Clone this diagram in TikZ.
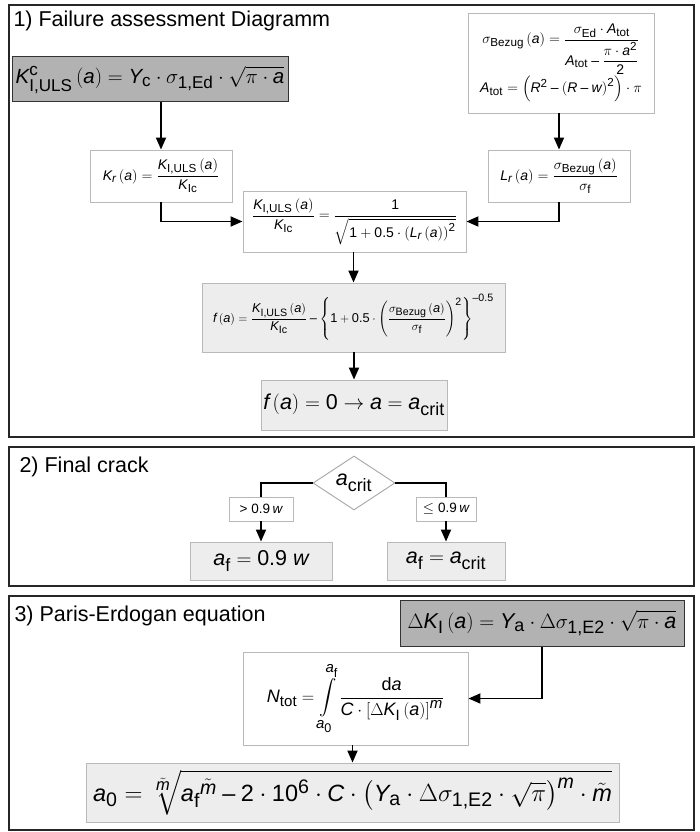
\documentclass[tikz,border=0pt]{standalone}
\usepackage{amsmath}
\usepackage{fontspec}
\setmainfont{Liberation Sans}
\usepackage[italic]{mathastext}
\usetikzlibrary{arrows.meta, shapes.geometric}

\begin{document}
\begin{tikzpicture}[
    x=1pt, y=-1pt,
    panel/.style={draw=black!85, line width=1.3pt},
    title/.style={anchor=west, font=\fontsize{21.5}{25}\selectfont},
    darkbox/.style={draw=black!80, fill=gray!60, line width=1pt, inner sep=0pt},
    eqbox/.style={draw=gray!55, fill=white, line width=0.9pt, inner sep=0pt},
    greybox/.style={draw=gray!55, fill=gray!14, line width=0.9pt, inner sep=0pt},
    big/.style={font=\fontsize{21.5}{25}\selectfont},
    small/.style={font=\fontsize{14}{16}\selectfont},
    tiny/.style={font=\fontsize{13.5}{15}\selectfont},
    arr/.style={-{Triangle[length=12pt,width=10pt]}, line width=1.8pt},
    conn/.style={line width=1.8pt}
]
\useasboundingbox (0,0) rectangle (699,832);

% ============================================================
% 1) FAILURE ASSESSMENT DIAGRAMM
% ============================================================
\draw[panel] (9,5) rectangle (694,437);
\node[title] (t1) at (10,21) {1) Failure assessment Diagramm};

\node[darkbox, font=\fontsize{20.5}{24}\selectfont, minimum width=276pt, minimum height=45pt] (kc) at (150,79.5)
    {$K^{\mathrm{c}}_{\mathrm{I,ULS}}\left(a\right)=Y_{\mathrm{c}}\cdot\sigma_{\mathrm{1,Ed}}\cdot\sqrt{\pi\cdot a}$};
\node[eqbox, small, align=center, minimum width=186pt, minimum height=100pt] (sig) at (561,63)
    {$\sigma_{\mathrm{Bezug}}\left(a\right)=\dfrac{\sigma_{\mathrm{Ed}}\cdot A_{\mathrm{tot}}}{A_{\mathrm{tot}}-\dfrac{\pi\cdot a^{\mathrm{2}}}{\mathrm{2}}}$\\[0pt]
     $A_{\mathrm{tot}}=\left(R^{\mathrm{2}}-\left(R-w\right)^{\mathrm{2}}\right)\cdot\pi$};

% ratios
\node[eqbox, small, minimum width=142pt, minimum height=52pt] (kr) at (161,176)
    {$K_r\left(a\right)=\dfrac{K_{\mathrm{I,ULS}}\left(a\right)}{K_{\mathrm{Ic}}}$};
\node[eqbox, small, minimum width=142pt, minimum height=52pt] (lr) at (559,176)
    {$L_r\left(a\right)=\dfrac{\sigma_{\mathrm{Bezug}}\left(a\right)}{\sigma_{\mathrm{f}}}$};
\node[eqbox, small, minimum width=223pt, minimum height=61pt] (mid) at (354.5,221.5)
    {$\dfrac{K_{\mathrm{I,ULS}}\left(a\right)}{K_{\mathrm{Ic}}}=\dfrac{\mathrm{1}}{\sqrt{\mathrm{1}+\mathrm{0.5}\cdot\left(L_r\left(a\right)\right)^{\mathrm{2}}}}$};

% limit function and result
\node[greybox, font=\fontsize{12.8}{15}\selectfont, minimum width=303pt, minimum height=69pt] (fa) at (353.5,317.5)
    {$f\left(a\right)=\dfrac{K_{\mathrm{I,ULS}}\left(a\right)}{K_{\mathrm{Ic}}}-\left\{\mathrm{1}+\mathrm{0.5}\cdot\left(\dfrac{\sigma_{\mathrm{Bezug}}\left(a\right)}{\sigma_{\mathrm{f}}}\right)^{\mathrm{2}}\right\}^{-\mathrm{0.5}}$};
\node[greybox, big, minimum width=186pt, minimum height=50pt] (f0) at (354,405)
    {$f\left(a\right)=\mathrm{0}\rightarrow a=a_{\mathrm{crit}}$};

% arrows
\draw[arr] (kc.south -| kr.north) -- (kr.north);
\draw[arr] (sig.south -| lr.north) -- (lr.north);
\draw[arr] (kr.south) |- (mid.west);
\draw[arr] (lr.south) |- (mid.east);
\draw[arr] (mid.south -| fa.north) -- (fa.north);
\draw[arr] (fa.south -| f0.north) -- (f0.north);

% ============================================================
% 2) FINAL CRACK
% ============================================================
\draw[panel] (9,447) rectangle (694,586);
\node[title] (t2) at (16,467) {2) Final crack};

\node[draw=gray!70, fill=white, line width=0.9pt, diamond, aspect=1.6, inner sep=0pt,
      minimum width=82pt, minimum height=54pt, big] (dia) at (354,483) {$a_{\mathrm{crit}}$};

\node[eqbox, tiny, minimum width=64pt, minimum height=24pt] (gt) at (261,509) {$>\mathrm{0.9}\,w$};
\node[eqbox, tiny, minimum width=60pt, minimum height=24pt] (le) at (446,509) {$\leq\mathrm{0.9}\,w$};

\node[greybox, big, minimum width=142pt, minimum height=38pt] (res1) at (261,561) {$a_{\mathrm{f}}=\mathrm{0.9}\ w$};
\node[greybox, big, minimum width=118pt, minimum height=38pt] (res2) at (446,561) {$a_{\mathrm{f}}=a_{\mathrm{crit}}$};

\draw[conn] (dia.west) -| (gt.north);
\draw[conn] (dia.east) -| (le.north);
\draw[arr] (gt.south) -- (res1.north);
\draw[arr] (le.south) -- (res2.north);

% ============================================================
% 3) PARIS-ERDOGAN EQUATION
% ============================================================
\draw[panel] (9,596) rectangle (694,830);
\node[title] (t3) at (11,616) {3) Paris-Erdogan equation};

\node[darkbox, big, minimum width=284pt, minimum height=46pt] (dk) at (542,623)
    {$\Delta K_{\mathrm{I}}\left(a\right)=Y_{\mathrm{a}}\cdot\Delta\sigma_{\mathrm{1,E2}}\cdot\sqrt{\pi\cdot a}$};
\node[eqbox, font=\fontsize{18}{21}\selectfont, minimum width=225pt, minimum height=93pt] (ntot) at (355.5,698.5)
    {$N_{\mathrm{tot}}=\displaystyle\int\limits_{a_{\mathrm{0}}}^{a_{\mathrm{f}}}\frac{\mathrm{d}a}{C\cdot\left[\Delta K_{\mathrm{I}}\left(a\right)\right]^m}$};
\node[greybox, font=\fontsize{23.5}{27}\selectfont, minimum width=533pt, minimum height=59pt] (a0) at (352.5,792.5)
    {$a_{\mathrm{0}}=\sqrt[\tilde m]{{a_{\mathrm{f}}}^{\tilde m}-\mathrm{2}\cdot\mathrm{10}^{\mathrm{6}}\cdot C\cdot\left(Y_{\mathrm{a}}\cdot\Delta\sigma_{\mathrm{1,E2}}\cdot\sqrt{\pi}\right)^m\cdot\tilde m}$};

\draw[arr] (dk.south) |- (ntot.east);
\draw[arr] (ntot.south -| a0.north) -- (a0.north);

\end{tikzpicture}
\end{document}
